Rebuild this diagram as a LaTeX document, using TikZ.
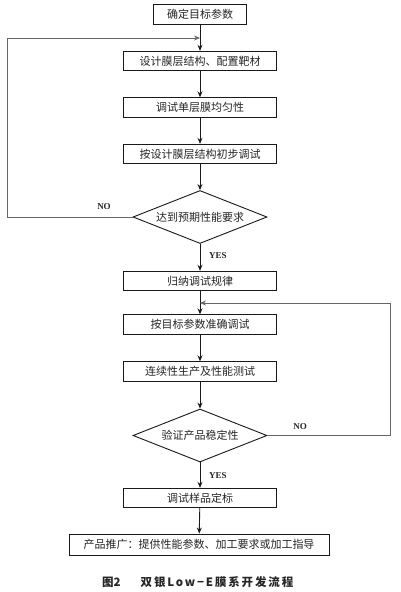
\documentclass[tikz,border=0pt]{standalone}
\usepackage{fontspec}
\setmainfont{Liberation Serif}
\newfontfamily\cjk{Noto Sans CJK SC}
\newfontfamily\cjkcap[LetterSpace=16]{Noto Sans CJK SC}
\usetikzlibrary{shapes.geometric,arrows.meta}
\tikzset{
  box/.style={draw=black!90, line width=0.9pt, minimum height=19.5pt, inner sep=0pt, font=\cjk\fontsize{11}{13}\selectfont, text=black!85},
  mainbox/.style={box, minimum width=153pt},
  decision/.style={draw=black!90, line width=0.9pt, diamond, aspect=2.5, minimum width=134pt, minimum height=53pt, inner sep=0pt, font=\cjk\fontsize{11}{13}\selectfont, text=black!85},
  flow/.style={line width=0.9pt, draw=black!90, -{Stealth[length=6pt,width=5pt]}},
  loop/.style={line width=0.8pt, draw=black!60, -{Stealth[length=6pt,width=5pt]}},
  lbl/.style={font=\bfseries\fontsize{9}{10}\selectfont, text=black!85, inner sep=0pt},
}
\begin{document}
\begin{tikzpicture}[x=1pt,y=-1pt]
\useasboundingbox[fill=white] (0,0) rectangle (400,592);
\node[box, minimum width=93pt] (n1) at (200,14.5) {确定目标参数};
\node[mainbox] (n2) at (200,61) {设计膜层结构、配置靶材};
\node[mainbox] (n3) at (200,107.5) {调试单层膜均匀性};
\node[mainbox] (n4) at (200,154) {按设计膜层结构初步调试};
\node[decision] (d1) at (200,217) {达到预期性能要求};
\node[mainbox] (n5) at (200,281) {归纳调试规律};
\node[mainbox] (n6) at (200,324.5) {按目标参数准确调试};
\node[mainbox] (n7) at (200,371.5) {连续性生产及性能测试};
\node[decision] (d2) at (200,435.5) {验证产品稳定性};
\node[mainbox] (n8) at (200,498) {调试样品定标};
\node[box, minimum width=260pt, minimum height=21pt] (n9) at (199,544.5) {产品推广：提供性能参数、加工要求或加工指导};
\coordinate (j1) at (200,38);
\coordinate (j2) at (200,303);
\draw[flow] (n1) -- (n2);
\draw[flow] (n2) -- (n3);
\draw[flow] (n3) -- (n4);
\draw[flow] (n4) -- (d1);
\draw[flow] (d1) -- (n5);
\draw[flow] (n5) -- (n6);
\draw[flow] (n6) -- (n7);
\draw[flow] (n7) -- (d2);
\draw[flow] (d2) -- (n8);
\draw[flow] (n8) -- (n9);
\draw[loop] (d1.west) -- ++(-125,0) |- (j1);
\draw[loop] (d2.east) -- ++(123,0) |- (j2);
\node[lbl] (no1) at (104,207) {NO};
\node[lbl] (yes1) at (218,256) {YES};
\node[lbl] (no2) at (300,427) {NO};
\node[lbl] (yes2) at (218,476) {YES};
\node[font=\cjk\bfseries\fontsize{11.5}{12}\selectfont, text=black!85, inner sep=0pt] (cap1) at (111.5,582) {图2};
\node[font=\cjkcap\bfseries\fontsize{11.5}{12}\selectfont, text=black!85, inner sep=0pt] (cap2) at (217,582) {双银Low−E膜系开发流程};
\end{tikzpicture}
\end{document}
